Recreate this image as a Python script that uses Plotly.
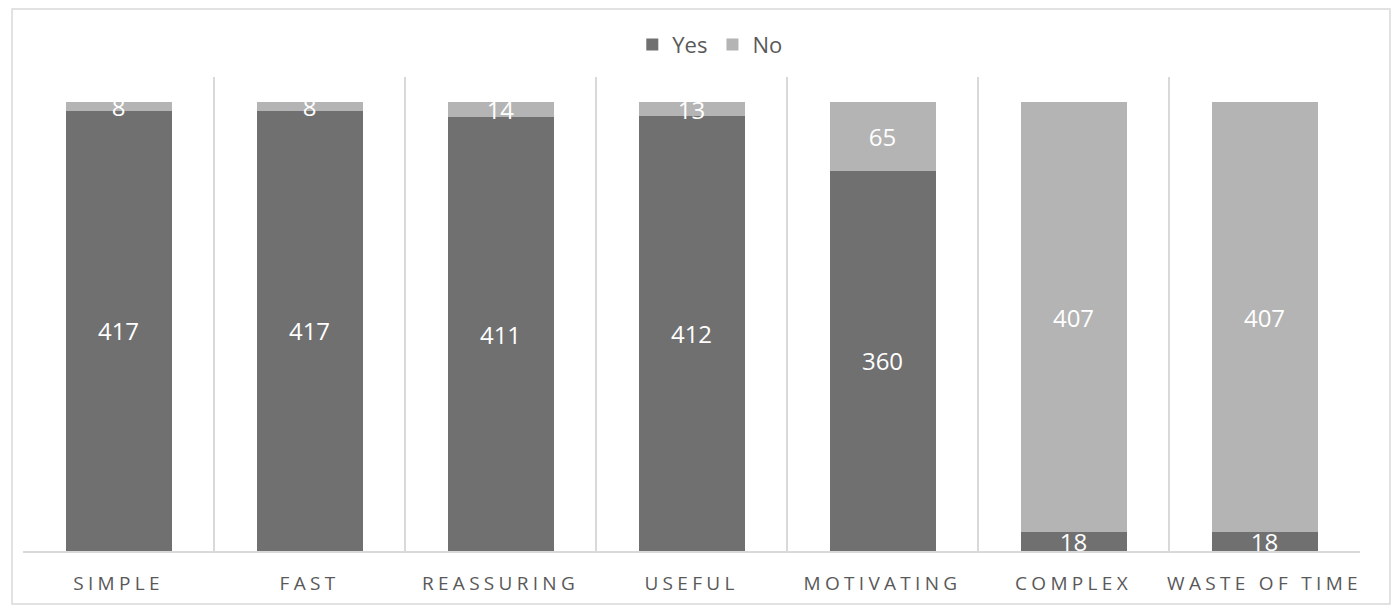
import plotly.graph_objects as go

categories = ["SIMPLE", "FAST", "REASSURING", "USEFUL", "MOTIVATING", "COMPLEX", "WASTE OF TIME"]
yes_values = [417, 417, 411, 412, 360, 18, 18]
no_values = [8, 8, 14, 13, 65, 407, 407]

YES_COLOR = "#707070"
NO_COLOR = "#b4b4b4"
GRID = "#d9d9d9"
TEXT = "#595959"
FONT = "Open Sans"

fig = go.Figure()
for name, vals, col in [("Yes", yes_values, YES_COLOR), ("No", no_values, NO_COLOR)]:
    fig.add_trace(go.Bar(
        name=name, x=categories, y=vals, marker=dict(color=col, line=dict(width=0)),
        text=vals, textposition="inside", insidetextanchor="middle",
        textangle=0, constraintext="none",
        textfont=dict(color="white", size=24, family=FONT),
        hoverinfo="skip",
    ))

fig.update_layout(
    barmode="stack",
    bargap=0.445,
    width=1400, height=613,
    margin=dict(l=23, r=40, t=77, b=62),
    paper_bgcolor="white", plot_bgcolor="white",
    font=dict(family=FONT, color=TEXT),
    legend=dict(orientation="h", xref="container", yref="container",
                x=0.507, xanchor="center", y=0.927, yanchor="middle",
                font=dict(size=22, color=TEXT, family=FONT),
                itemwidth=30, tracegroupgap=0, traceorder="normal"),
    showlegend=True,
)
fig.update_xaxes(
    type="category", tickson="boundaries", showgrid=True, gridcolor=GRID, gridwidth=1.5,
    showline=True, linecolor=GRID, linewidth=1.5, ticks="",
    tickfont=dict(size=19, color=TEXT, family=FONT), ticklabelstandoff=14,
    fixedrange=True,
)
fig.update_yaxes(range=[0, 449], visible=False, showgrid=False, fixedrange=True)

fig.add_shape(type="rect", xref="paper", yref="paper",
              x0=-0.0082, x1=1.0224, y0=-0.1118, y1=1.1435,
              line=dict(color=GRID, width=1.5), fillcolor="rgba(0,0,0,0)", layer="below")

post = ("document.body.style.margin='0';document.body.style.overflow='hidden';"
        "document.querySelectorAll('.xtick text').forEach(function(t){t.style.letterSpacing='4.3px';});")
fig.write_html("out.html", post_script=post, config={"displayModeBar": False})
